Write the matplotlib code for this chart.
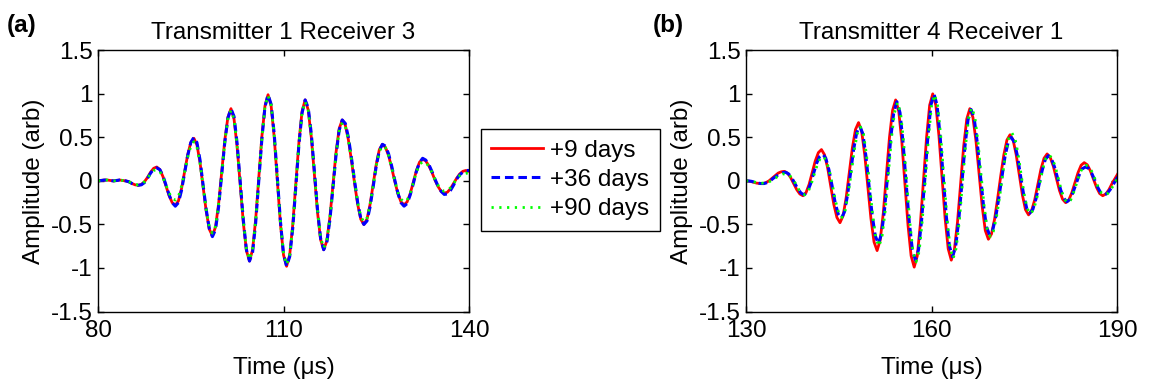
import numpy as np
import matplotlib
matplotlib.use("Agg")
import matplotlib.pyplot as plt

plt.rcParams['font.family'] = ['Liberation Sans', 'DejaVu Sans']

# panel (a): Transmitter 1 Receiver 3, sampled every 0.5 us from 80 us
t_a = np.arange(80.0, 140.01, 0.5)
red_a = [0.00, 0.005, 0.01, 0.01, 0.005, 0.00, 0.005, 0.01, 0.005, 0.00,
         -0.01, -0.03, -0.045, -0.05, -0.04, -0.01, 0.04, 0.10, 0.145, 0.16,
         0.13, 0.05, -0.06, -0.17, -0.25, -0.28, -0.23, -0.09, 0.105, 0.30,
         0.44, 0.49, 0.415, 0.21, -0.07, -0.35, -0.555, -0.63, -0.53, -0.265,
         0.10, 0.465, 0.73, 0.83, 0.71, 0.39, -0.045, -0.48, -0.80, -0.92,
         -0.79, -0.44, 0.035, 0.51, 0.86, 0.99, 0.86, 0.50, 0.005, -0.49,
         -0.85, -0.98, -0.85, -0.50, -0.025, 0.45, 0.80, 0.93, 0.815, 0.50,
         0.07, -0.36, -0.675, -0.79, -0.69, -0.42, -0.045, 0.33, 0.60, 0.70,
         0.64, 0.47, 0.23, -0.03, -0.27, -0.44, -0.50, -0.44, -0.27, -0.04,
         0.19, 0.36, 0.42, 0.385, 0.29, 0.15, -0.005, -0.145, -0.24, -0.275,
         -0.24, -0.145, -0.0125, 0.12, 0.215, 0.25, 0.23, 0.175, 0.10, 0.01,
         -0.065, -0.12, -0.14, -0.13, -0.09, -0.03, 0.03, 0.08, 0.11, 0.12,
         0.11]
blue_a = [0.00, 0.005, 0.01, 0.01, 0.005, 0.00, 0.005, 0.01, 0.005, 0.00,
          -0.01, -0.03, -0.045, -0.05, -0.045, -0.02, 0.03, 0.09, 0.135, 0.15,
          0.13, 0.06, -0.05, -0.16, -0.25, -0.29, -0.25, -0.11, 0.09, 0.29,
          0.44, 0.50, 0.44, 0.24, -0.05, -0.33, -0.55, -0.64, -0.56, -0.30,
          0.07, 0.44, 0.72, 0.83, 0.74, 0.43, -0.01, -0.45, -0.79, -0.92,
          -0.82, -0.48, 0.00, 0.48, 0.85, 0.99, 0.88, 0.54, 0.04, -0.46,
          -0.84, -0.98, -0.87, -0.54, -0.06, 0.42, 0.78, 0.93, 0.84, 0.54,
          0.11, -0.33, -0.66, -0.79, -0.71, -0.45, -0.08, 0.30, 0.58, 0.70,
          0.66, 0.50, 0.26, 0.00, -0.25, -0.43, -0.50, -0.46, -0.30, -0.07,
          0.17, 0.35, 0.42, 0.40, 0.31, 0.17, 0.01, -0.14, -0.25, -0.29,
          -0.26, -0.16, -0.03, 0.11, 0.21, 0.26, 0.24, 0.19, 0.11, 0.02,
          -0.06, -0.12, -0.155, -0.15, -0.11, -0.05, 0.02, 0.07, 0.10, 0.12,
          0.12]
green_a = [0.00, 0.005, 0.01, 0.01, 0.005, 0.00, 0.005, 0.01, 0.005, 0.00,
           -0.01, -0.025, -0.04, -0.045, -0.035, -0.01, 0.03, 0.08, 0.12, 0.13,
           0.11, 0.04, -0.05, -0.14, -0.20, -0.22, -0.18, -0.06, 0.10, 0.27,
           0.40, 0.45, 0.39, 0.20, -0.06, -0.33, -0.53, -0.60, -0.52, -0.27,
           0.08, 0.44, 0.71, 0.81, 0.71, 0.40, -0.03, -0.46, -0.78, -0.90,
           -0.79, -0.45, 0.02, 0.49, 0.85, 0.98, 0.87, 0.52, 0.02, -0.47,
           -0.83, -0.96, -0.85, -0.52, -0.04, 0.43, 0.78, 0.91, 0.81, 0.51,
           0.09, -0.34, -0.65, -0.77, -0.69, -0.43, -0.06, 0.30, 0.57, 0.67,
           0.63, 0.47, 0.24, -0.01, -0.25, -0.41, -0.47, -0.43, -0.27, -0.05,
           0.17, 0.34, 0.40, 0.38, 0.29, 0.15, 0.00, -0.13, -0.21, -0.24,
           -0.22, -0.14, -0.02, 0.10, 0.19, 0.22, 0.21, 0.17, 0.10, 0.02,
           -0.05, -0.10, -0.12, -0.11, -0.08, -0.03, 0.02, 0.06, 0.08, 0.09,
           0.08]

# panel (b): Transmitter 4 Receiver 1, each series has its own sampling start
t_red_b = np.arange(129.7, 190.25, 0.5)
t_blue_b = np.arange(129.9, 190.45, 0.5)
t_green_b = np.arange(130.0, 190.55, 0.5)
red_b = [0.00, 0.00, -0.005, -0.015, -0.025, -0.03, -0.03, -0.02, 0.00, 0.03,
         0.06, 0.09, 0.105, 0.11, 0.09, 0.04, -0.03, -0.10, -0.15, -0.17,
         -0.135, -0.04, 0.095, 0.23, 0.325, 0.36, 0.30, 0.15, -0.06, -0.27,
         -0.42, -0.48, -0.40, -0.19, 0.095, 0.38, 0.59, 0.67, 0.57, 0.30,
         -0.065, -0.43, -0.70, -0.80, -0.68, -0.37, 0.065, 0.50, 0.81, 0.93,
         0.80, 0.45, -0.03, -0.51, -0.86, -0.99, -0.86, -0.49, 0.005, 0.50,
         0.87, 1.00, 0.87, 0.52, 0.045, -0.43, -0.78, -0.91, -0.79, -0.475,
         -0.04, 0.395, 0.71, 0.83, 0.73, 0.455, 0.08, -0.295, -0.57, -0.67,
         -0.61, -0.44, -0.20, 0.06, 0.30, 0.47, 0.53, 0.47, 0.30, 0.07,
         -0.16, -0.33, -0.39, -0.34, -0.215, -0.04, 0.135, 0.26, 0.31, 0.27,
         0.17, 0.03, -0.11, -0.21, -0.25, -0.22, -0.135, -0.02, 0.095, 0.18,
         0.21, 0.185, 0.115, 0.02, -0.075, -0.145, -0.17, -0.15, -0.10, -0.03,
         0.03, 0.09]
blue_b = [0.00, 0.00, -0.005, -0.015, -0.025, -0.03, -0.03, -0.02, 0.00, 0.03,
          0.055, 0.08, 0.095, 0.10, 0.08, 0.035, -0.03, -0.095, -0.14, -0.16,
          -0.13, -0.04, 0.08, 0.20, 0.28, 0.31, 0.26, 0.13, -0.05, -0.245,
          -0.38, -0.43, -0.36, -0.17, 0.09, 0.36, 0.555, 0.63, 0.54, 0.28,
          -0.06, -0.39, -0.63, -0.72, -0.615, -0.33, 0.06, 0.49, 0.79, 0.91,
          0.785, 0.44, -0.03, -0.47, -0.79, -0.91, -0.79, -0.45, 0.01, 0.50,
          0.87, 1.00, 0.87, 0.51, 0.04, -0.41, -0.75, -0.87, -0.755, -0.455,
          -0.04, 0.39, 0.70, 0.82, 0.72, 0.44, 0.07, -0.275, -0.53, -0.62,
          -0.565, -0.41, -0.19, 0.05, 0.285, 0.445, 0.50, 0.445, 0.285, 0.06,
          -0.155, -0.315, -0.37, -0.325, -0.205, -0.04, 0.12, 0.245, 0.29, 0.255,
          0.16, 0.03, -0.105, -0.20, -0.24, -0.21, -0.13, -0.03, 0.07, 0.14,
          0.16, 0.145, 0.09, 0.01, -0.075, -0.14, -0.16, -0.145, -0.10, -0.04,
          0.02, 0.08]
green_b = [0.00, 0.00, -0.005, -0.015, -0.02, -0.025, -0.025, -0.02, 0.00, 0.02,
           0.045, 0.065, 0.08, 0.08, 0.065, 0.03, -0.03, -0.095, -0.14, -0.16,
           -0.13, -0.045, 0.07, 0.18, 0.26, 0.28, 0.23, 0.11, -0.06, -0.24,
           -0.37, -0.42, -0.35, -0.16, 0.09, 0.35, 0.545, 0.62, 0.54, 0.29,
           -0.06, -0.41, -0.66, -0.75, -0.64, -0.35, 0.06, 0.48, 0.78, 0.90,
           0.78, 0.44, -0.03, -0.48, -0.81, -0.93, -0.81, -0.46, 0.01, 0.49,
           0.86, 0.99, 0.86, 0.51, 0.04, -0.42, -0.77, -0.89, -0.77, -0.46,
           -0.03, 0.40, 0.72, 0.84, 0.74, 0.46, 0.08, -0.28, -0.55, -0.64,
           -0.58, -0.42, -0.19, 0.07, 0.32, 0.49, 0.55, 0.49, 0.31, 0.07,
           -0.16, -0.32, -0.38, -0.33, -0.21, -0.03, 0.14, 0.26, 0.30, 0.26,
           0.17, 0.03, -0.11, -0.21, -0.25, -0.22, -0.13, -0.02, 0.09, 0.16,
           0.18, 0.16, 0.10, 0.01, -0.08, -0.14, -0.16, -0.145, -0.10, -0.04,
           0.02, 0.07]

labels = ['+9 days', '+36 days', '+90 days']
titles = ['Transmitter 1 Receiver 3', 'Transmitter 4 Receiver 1']
xlims = [(80, 140), (130, 190)]
xticks = [[80, 110, 140], [130, 160, 190]]
yticks = [-1.5, -1, -0.5, 0, 0.5, 1, 1.5]
ytick_labels = ['-1.5', '-1', '-0.5', '0', '0.5', '1', '1.5']

FS = 17.5

fig = plt.figure(figsize=(11.52, 3.87), dpi=100)
ax_a = fig.add_axes([0.0851, 0.195, 0.322, 0.675])
ax_b = fig.add_axes([0.6476, 0.195, 0.322, 0.675])

series = [
    (ax_a, [(t_a, red_a), (t_a, blue_a), (t_a, green_a)]),
    (ax_b, [(t_red_b, red_b), (t_blue_b, blue_b), (t_green_b, green_b)]),
]

handles = None
for i, (ax, data) in enumerate(series):
    (tr, r), (tb, b), (tg, g) = data
    h1, = ax.plot(tr, r, color='#ff0000', lw=2.0, ls='-')
    h2, = ax.plot(tb, b, color='#0000ff', lw=2.2, ls=(0, (2.8, 1.6)))
    h3, = ax.plot(tg, g, color='#00ff00', lw=2.0, ls=(0, (0.8, 2.0)))
    if handles is None:
        handles = [h1, h2, h3]
    ax.set_xlim(*xlims[i])
    ax.set_ylim(-1.5, 1.5)
    ax.set_xticks(xticks[i])
    ax.set_xticklabels([str(v) for v in xticks[i]], fontsize=FS)
    ax.set_yticks(yticks)
    ax.set_yticklabels(ytick_labels, fontsize=FS)
    ax.tick_params(direction='in', length=4, width=1, top=True, right=True)
    ax.tick_params(axis='x', pad=6)
    ax.tick_params(axis='y', pad=4)
    ax.set_title(titles[i], fontsize=FS, pad=8)
    ax.set_xlabel('Time (\u03bcs)', fontsize=FS, labelpad=11)
    ax.set_ylabel('Amplitude (arb)', fontsize=FS, labelpad=4)
    for sp in ax.spines.values():
        sp.set_linewidth(1.0)

fig.text(0.006, 0.963, '(a)', fontsize=FS, fontweight='bold', va='top')
fig.text(0.567, 0.963, '(b)', fontsize=FS, fontweight='bold', va='top')

leg = fig.legend(handles, labels, loc='center', bbox_to_anchor=(0.4952, 0.535),
                 fontsize=FS, frameon=True, fancybox=False, edgecolor='black',
                 framealpha=1, handlelength=2.14, handletextpad=0.29,
                 labelspacing=0.3, borderpad=0.43, borderaxespad=0)
leg.get_frame().set_linewidth(1.0)

fig.savefig('out.png', dpi=100)
